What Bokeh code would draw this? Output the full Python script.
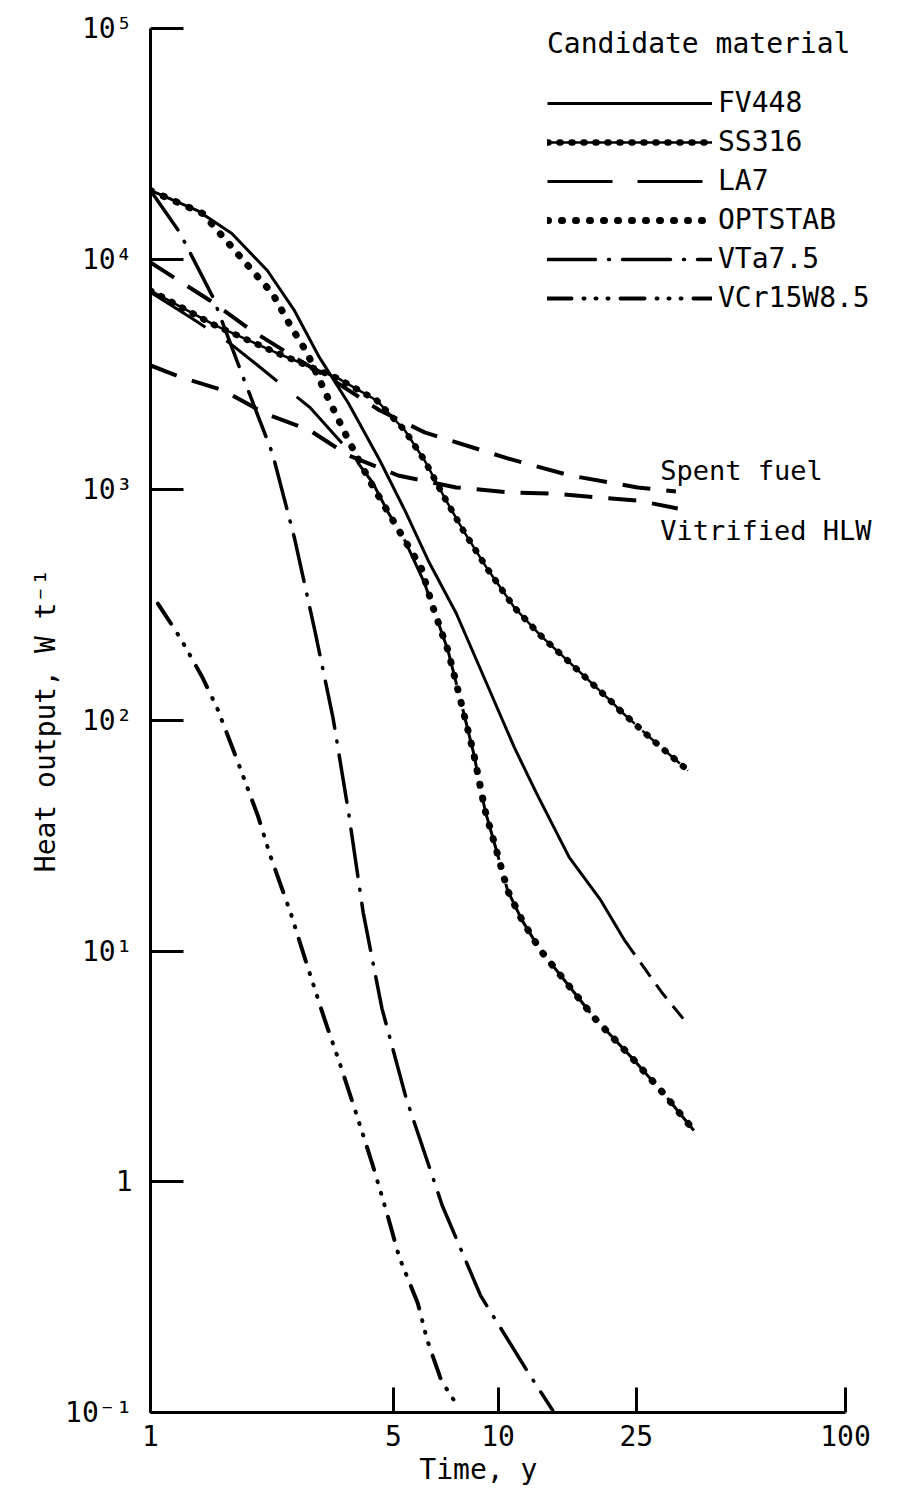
from bokeh.plotting import figure
from bokeh.models import Legend, LegendItem, FixedTicker, Label
from bokeh.embed import file_html
from bokeh.resources import INLINE

FONT = "DejaVu Sans Mono"

# ---- data: time (y) and heat output (W/t) ----
fv448_t = [1.0, 1.365, 1.714, 2.168, 2.594, 3.062, 3.715, 4.571, 5.395, 6.295, 7.586, 9.268, 11.14, 12.91, 16.03, 19.77, 23.17]
fv448_q = [19860, 16250, 12920, 8930, 5995, 3750, 2366, 1340, 814, 494, 291, 145, 76.4, 48.3, 25.5, 16.6, 11.1]
fv448_ext_t = [23.17, 29.6, 34.1]
fv448_ext_q = [11.1, 6.62, 5.1]

ss316_t = [1.0, 1.535, 2.291, 3.467, 4.477, 5.395, 6.15, 7.01, 7.94, 9.27, 11.14, 13.24, 16.64, 21.46, 22.44]
ss316_q = [7310, 5160, 3940, 3040, 2440, 1808, 1340, 927, 667, 460, 309, 234, 170, 118.6, 110.5]
ss316_ext_t = [22.44, 28.4, 35.2]
ss316_ext_q = [110.5, 80.3, 60.7]

la7_t = [1.0, 1.318, 1.679, 2.037, 2.455, 2.877, 3.715, 4.355, 4.831, 5.395, 6.15, 6.50, 7.18, 7.94, 8.51, 9.18, 9.77, 10.66, 11.73, 13.24, 15.31, 18.89, 24.36, 30.0, 36.6]
la7_q = [7180, 5530, 4355, 3460, 2750, 2275, 1482, 1076, 798, 603, 393, 309, 201, 110, 72, 40.7, 29.3, 18.3, 13.6, 10.1, 7.69, 5.16, 3.43, 2.41, 1.67]

optstab_t = [1.0, 1.413, 1.928, 2.244, 2.506, 2.818, 3.236, 3.715, 4.266, 4.831, 5.395, 6.01, 6.50, 7.18, 7.94, 8.51, 9.18, 9.77, 10.66, 11.73, 13.24, 15.31, 18.89, 24.36, 30.0, 36.6]
optstab_q = [19860, 15780, 9200, 7100, 5260, 3940, 2512, 1637, 1099, 798, 603, 460, 309, 201, 110, 72, 40.7, 29.3, 18.3, 13.6, 10.1, 7.69, 5.16, 3.43, 2.41, 1.67]

vta_t = [1.0, 1.213, 1.514, 1.862, 2.244, 2.594, 2.958, 3.350, 3.715, 4.093, 4.634, 5.442, 6.91, 8.91, 12.26, 14.37]
vta_q = [19860, 13060, 6820, 2980, 1438, 621, 253, 103, 39.9, 14.7, 5.65, 2.30, 0.79, 0.321, 0.1476, 0.102]

vcr_t = [1.05, 1.14, 1.22, 1.41, 1.56, 1.79, 2.04, 2.21, 2.54, 2.80, 3.17, 3.52, 3.95, 4.36, 4.80, 5.20, 5.88, 6.25, 6.86, 7.70]
vcr_q = [321, 266, 227, 154, 112, 65.2, 38.4, 26.0, 14.4, 9.02, 5.06, 3.20, 1.88, 1.18, 0.723, 0.470, 0.297, 0.207, 0.138, 0.105]

spent_t = [1.0, 1.483, 1.954, 2.630, 3.467, 4.571, 6.15, 10.66, 16.11, 25.2, 32.5]
spent_q = [9670, 6620, 4910, 3710, 2890, 2208, 1774, 1368, 1154, 1024, 984]

hlw_t = [1.0, 1.230, 1.622, 2.138, 2.877, 3.715, 5.155, 7.586, 10.79, 14.37, 19.14, 25.2, 32.9]
hlw_q = [3460, 3070, 2697, 2143, 1808, 1409, 1154, 1024, 975, 964, 927, 899, 830]

x_ticks = [1, 5, 10, 25, 100]
x_tick_labels = ["1", "5", "10", "25", "100"]
y_ticks = [0.1, 1, 10, 100, 1000, 10000, 100000]
y_tick_labels = ["10\u207b\u00b9", "1", "10\u00b9", "10\u00b2", "10\u00b3", "10\u2074", "10\u2075"]

series_names = ["FV448", "SS316", "LA7", "OPTSTAB", "VTa7.5", "VCr15W8.5"]

# ---- figure ----
# frame extends a little past t = 100 so that the legend and labels are not clipped;
# the axis itself stops at 100 through its bounds
p = figure(x_axis_type="log", y_axis_type="log", x_range=(1, 134.7), y_range=(0.1, 1e5),
           frame_width=740, frame_height=1384,
           min_border_left=150, min_border_right=5, min_border_top=28, min_border_bottom=70,
           output_backend="svg", toolbar_location=None)
p.xgrid.visible = False
p.ygrid.visible = False
p.outline_line_color = None
p.background_fill_color = "white"
p.border_fill_color = "white"

for ax in (p.xaxis[0], p.yaxis[0]):
    ax.axis_line_width = 3
    ax.axis_line_color = "black"
    ax.major_tick_line_width = 3
    ax.major_tick_line_color = "black"
    ax.major_tick_out = 0
    ax.minor_tick_in = 0
    ax.minor_tick_out = 0
    ax.major_label_text_font = FONT
    ax.major_label_text_font_size = "28px"
    ax.major_label_text_color = "black"
    ax.axis_label_text_font = FONT
    ax.axis_label_text_font_style = "normal"
    ax.axis_label_text_font_size = "28px"
    ax.axis_label_text_color = "black"

p.xaxis.bounds = (1, 100)
p.xaxis.ticker = FixedTicker(ticks=x_ticks)
p.yaxis.ticker = FixedTicker(ticks=y_ticks)
p.xaxis.major_label_overrides = {v: s for v, s in zip(x_ticks, x_tick_labels)}
p.yaxis.major_label_overrides = {v: s for v, s in zip(y_ticks, y_tick_labels)}
p.xaxis.major_tick_in = 25
p.yaxis.major_tick_in = 33
p.xaxis.major_label_standoff = 12
p.yaxis.major_label_standoff = 18
# non-breaking spaces keep the title centred under the 1-100 axis rather than the wider frame
p.xaxis.axis_label = "Time, y" + "\u00a0" * 5
p.yaxis.axis_label = "Heat output, W t\u207b\u00b9"
p.xaxis.axis_label_standoff = 4
p.yaxis.axis_label_standoff = 0

K = "black"

# FV448 - solid, dashed extrapolation
r_fv = p.line(fv448_t, fv448_q, line_color=K, line_width=3, line_join="round")
p.line(fv448_ext_t, fv448_ext_q, line_color=K, line_width=3, line_dash="17 10")

# SS316 - line with beads
r_ss = p.line(ss316_t, ss316_q, line_color=K, line_width=2.5, line_join="round")
r_ssb = p.line(ss316_t, ss316_q, line_color=K, line_width=6.5, line_dash="1 11", line_cap="round")
p.line(ss316_ext_t, ss316_ext_q, line_color=K, line_width=2.5, line_dash="20 10")
p.line(ss316_ext_t, ss316_ext_q, line_color=K, line_width=6.5, line_dash="1 11", line_cap="round")

# LA7 - long dash
r_la = p.line(la7_t, la7_q, line_color=K, line_width=3, line_dash="65 25")

# OPTSTAB - large dots
r_opt = p.line(optstab_t, optstab_q, line_color=K, line_width=7, line_dash="1 13", line_cap="round")

# VTa7.5 - dash dot
r_vta = p.line(vta_t, vta_q, line_color=K, line_width=3.5, line_dash="48 13 1 13", line_cap="round")

# VCr15W8.5 - dot dot dot dash
r_vcr = p.line(vcr_t, vcr_q, line_color=K, line_width=4, line_dash="24 12 1 11 1 11 1 12", line_cap="round")

# Spent fuel and vitrified HLW - dashed
p.line(spent_t, spent_q, line_color=K, line_width=4, line_dash="28 16")
p.line(hlw_t, hlw_q, line_color=K, line_width=4, line_dash="28 16")

p.add_layout(Label(x=29.3, y=1213, text="Spent fuel", text_font=FONT, text_font_size="27px",
                   text_baseline="middle", text_color=K))
p.add_layout(Label(x=29.3, y=667, text="Vitrified HLW", text_font=FONT, text_font_size="27px",
                   text_baseline="middle", text_color=K))

legend = Legend(items=[
    LegendItem(label=series_names[0], renderers=[r_fv]),
    LegendItem(label=series_names[1], renderers=[r_ss, r_ssb]),
    LegendItem(label=series_names[2], renderers=[r_la]),
    LegendItem(label=series_names[3], renderers=[r_opt]),
    LegendItem(label=series_names[4], renderers=[r_vta]),
    LegendItem(label=series_names[5], renderers=[r_vcr]),
], location=(397, 1098), title="Candidate material",
    title_text_font=FONT, title_text_font_size="28px", title_text_font_style="normal",
    title_text_color=K, title_standoff=26,
    label_text_font=FONT, label_text_font_size="28px", label_text_color=K,
    glyph_width=165, glyph_height=20, label_standoff=6, spacing=6,
    padding=0, margin=0, border_line_color=None, background_fill_alpha=0)
p.add_layout(legend)

open("out.html", "w").write(file_html(p, INLINE))
